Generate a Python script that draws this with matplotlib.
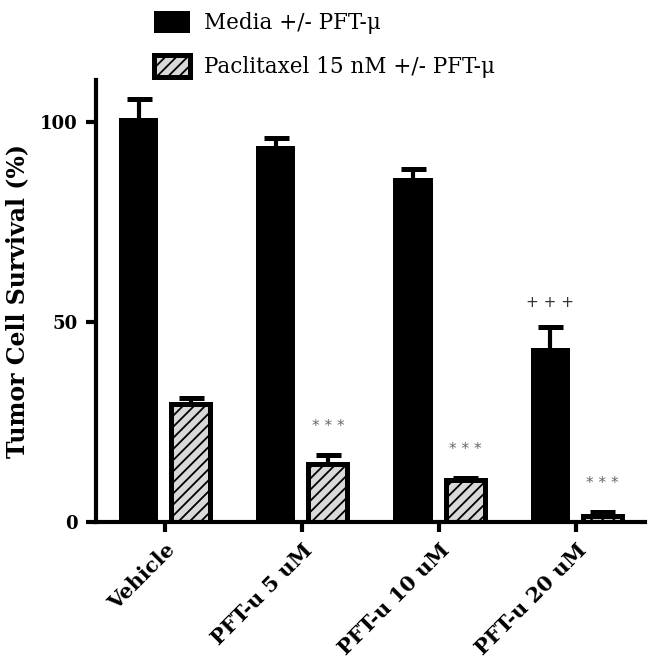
import matplotlib.pyplot as plt
import numpy as np

plt.rcParams['hatch.linewidth'] = 1.3

# datos
grupos = ['Vehicle', 'PFT-u 5 uM', 'PFT-u 10 uM', 'PFT-u 20 uM']
media = [100.9, 94.0, 85.9, 43.6]
media_err = [4.8, 2.1, 2.3, 5.2]
pacli = [29.5, 14.5, 10.6, 1.5]
pacli_err = [1.4, 2.3, 0.5, 1.1]
etiquetas = ['Media +/- PFT-\u03bc', 'Paclitaxel 15 nM +/- PFT-\u03bc']
signif_media = ['', '', '', '+ + +']
signif_pacli = ['', '* * *', '* * *', '* * *']

x = np.arange(len(grupos))
w = 0.285
d = 0.19

fig = plt.figure(figsize=(6.54, 6.64), dpi=100)
ax = fig.add_axes([0.1468, 0.2139, 0.986 - 0.1468, 0.8795 - 0.2139])


def barras_error(xs, ys, err):
    '''solo la mitad de arriba de la barra de error'''
    eb = ax.errorbar(xs, ys, yerr=[np.zeros(len(ys)), err], fmt='none', ecolor='black',
                     elinewidth=3, capsize=9, capthick=3.6)
    for c in eb[1]:
        if np.allclose(c.get_ydata(), ys):
            c.set_visible(False)


b1 = ax.bar(x - d, media, w, color='black', edgecolor='black', linewidth=0)
barras_error(x - d, media, media_err)
b2 = ax.bar(x + d, pacli, w, color='#d9d9d9', edgecolor='black', linewidth=3.6,
            hatch='///')
barras_error(x + d, pacli, pacli_err)

# asteriscos
for i in range(len(grupos)):
    if signif_media[i]:
        ax.text(x[i] - d, media[i] + media_err[i] + 6, signif_media[i], ha='center',
                va='center', fontsize=11, color='#333333')
    if signif_pacli[i]:
        ax.text(x[i] + d, pacli[i] + pacli_err[i] + 7, signif_pacli[i], ha='center',
                va='center', fontsize=11, color='#666666')

ax.set_xlim(-0.5, 3.5)
ax.set_ylim(0, 110.5)
ax.set_yticks([0, 50, 100])
ax.set_yticklabels(['0', '50', '100'], fontfamily='DejaVu Serif', fontweight='bold',
                   fontsize=13)
ax.set_xticks(x)
ax.set_xticklabels(grupos, rotation=45, ha='right', rotation_mode='anchor',
                   fontfamily='DejaVu Serif', fontweight='bold', fontsize=15)
ax.set_ylabel('Tumor Cell Survival (%)', fontfamily='DejaVu Serif', fontweight='bold',
              fontsize=17, labelpad=8)
for s in ['top', 'right']:
    ax.spines[s].set_visible(False)
for s in ['left', 'bottom']:
    ax.spines[s].set_linewidth(3)
ax.tick_params(axis='both', width=3, length=7, pad=6)

fig.legend([b1, b2], etiquetas, loc='upper left', bbox_to_anchor=(154 / 654, 1 - 11 / 664),
           frameon=False, prop={'family': 'DejaVu Serif', 'size': 15.5},
           handlelength=1.65, handleheight=1.2, handletextpad=0.65, labelspacing=0.95,
           borderpad=0, borderaxespad=0)

plt.savefig('out.png', dpi=100)
